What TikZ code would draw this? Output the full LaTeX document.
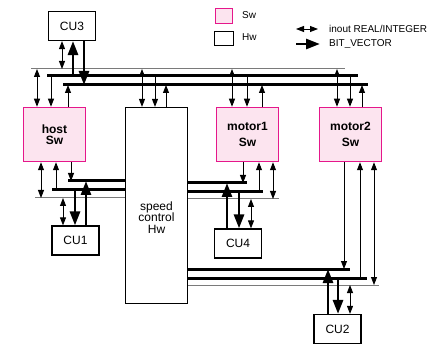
\documentclass[tikz,border=0pt]{standalone}
\usepackage{fontspec}
\setmainfont{Liberation Sans}
\usetikzlibrary{arrows.meta, calc}
\definecolor{swmagenta}{HTML}{E5178B}
\definecolor{swpink}{HTML}{FCE4EF}
\definecolor{busgrey}{HTML}{7A7A7A}
\tikzset{
  swbox/.style={rectangle, draw=swmagenta, fill=swpink, line width=1.5pt,
                minimum width=62pt, minimum height=54pt, align=center,
                font=\fontsize{12}{11.5}\selectfont\bfseries},
  hwbox/.style={rectangle, draw=black, fill=white, line width=1.2pt,
                align=center, font=\fontsize{12}{11.5}\selectfont},
  cubox/.style={hwbox, minimum width=47pt, minimum height=29pt},
  hwtext/.style={align=center, font=\fontsize{12}{11.5}\selectfont},
  legtext/.style={anchor=west, inner sep=0pt, font=\fontsize{10}{12}\selectfont},
  thinbus/.style={draw=busgrey, line width=1pt},
  thickbus/.style={draw=black, line width=3pt},
  iolink/.style={{Triangle[length=8pt,width=6pt]}-{Triangle[length=8pt,width=6pt]},
                 line width=0.9pt},
  siglink/.style={-{Triangle[length=8pt,width=6pt]}, line width=0.9pt},
  veclink/.style={-{Triangle[length=14pt,width=10pt]}, line width=2.8pt},
}

\begin{document}
\begin{tikzpicture}[x=1pt, y=-1pt]
  \useasboundingbox (0,0) rectangle (433,347);

  % --- blocks ---
  \node[cubox]  (cu3)    at (72,26)      {CU3};
  \node[swbox]  (host)   at (54.5,134.5) {host\\Sw};
  \node[hwbox, minimum width=62pt, minimum height=196pt,
        label={[hwtext, yshift=-12pt]center:speed\\control\\Hw}] (speed) at (156.5,205.5) {};
  \node[swbox]  (motor1) at (247.5,134.5) {motor1\\[5pt]Sw};
  \node[swbox]  (motor2) at (350.5,134.5) {motor2\\[5pt]Sw};
  \node[cubox]  (cu1)    at (75.5,240.5) {CU1};
  \node[cubox]  (cu4)    at (238,243.5)  {CU4};
  \node[cubox]  (cu2)    at (337.5,329)  {CU2};

  % --- legend ---
  \node[swbox, minimum width=17pt, minimum height=15pt] (swkey) at (224,16) {};
  \node[hwbox, minimum width=19pt, minimum height=14pt] (hwkey) at (224,38.5) {};
  \node[legtext] (swlab) at (242,15) {Sw};
  \node[legtext] (hwlab) at (242,37) {Hw};
  \node[legtext] (iolab) at (329,29) {inout REAL/INTEGER};
  \node[legtext] (veclab) at (329,44) {BIT\_VECTOR};
  \coordinate (ioA) at (296,29);  \coordinate (ioB) at (318,29);
  \coordinate (vecA) at (296,44); \coordinate (vecB) at (320,44);
  \draw[iolink] (ioA) -- (ioB);
  \draw[veclink] (vecA) -- (vecB);

  % --- buses ---
  \coordinate (taW) at (31,69);  \coordinate (taE) at (345,69);
  \coordinate (tbW) at (47,76);  \coordinate (tbE) at (358,76);
  \coordinate (tcW) at (63,85);  \coordinate (tcE) at (368,85);
  \draw[thinbus]  (taW) -- (taE);
  \draw[thickbus] (tbW) -- (tbE);
  \draw[thickbus] (tcW) -- (tcE);

  \coordinate (haW) at (35,198); \coordinate (hbW) at (68,181); \coordinate (hcW) at (52,190);
  \draw[thinbus]  (haW) -- (haW -| speed.west);
  \draw[thickbus] (hbW) -- (hbW -| speed.west);
  \draw[thickbus] (hcW) -- (hcW -| speed.west);

  \coordinate (maE) at (279,199); \coordinate (mbE) at (247,183); \coordinate (mcE) at (263,192);
  \draw[thinbus]  (speed.east |- maE) -- (maE);
  \draw[thickbus] (speed.east |- mbE) -- (mbE);
  \draw[thickbus] (speed.east |- mcE) -- (mcE);

  \coordinate (baE) at (379,285); \coordinate (bbE) at (350,269); \coordinate (bcE) at (367,278);
  \draw[thinbus]  (speed.east |- baE) -- (baE);
  \draw[thickbus] (speed.east |- bbE) -- (bbE);
  \draw[thickbus] (speed.east |- bcE) -- (bcE);

  % --- top connections ---
  \draw[iolink]  (cu3.south -| 62,0) -- (taW -| 62,0);
  \draw[veclink] (tbW -| 73,0) -- (cu3.south -| 73,0);
  \draw[veclink] (cu3.south -| 84,0) -- (tcW -| 84,0);

  \draw[iolink]  (taW -| 37,0) -- (host.north -| 37,0);
  \draw[siglink] (tbW -| 51,0) -- (host.north -| 51,0);
  \draw[siglink] (host.north -| 68,0) -- (tcW -| 68,0);

  \draw[iolink]  (taW -| 142,0) -- (speed.north -| 142,0);
  \draw[siglink] (tbW -| 155,0) -- (speed.north -| 155,0);
  \draw[siglink] (speed.north -| 166,0) -- (tcW -| 166,0);

  \draw[iolink]  (taW -| 232,0) -- (motor1.north -| 232,0);
  \draw[siglink] (tbW -| 247,0) -- (motor1.north -| 247,0);
  \draw[siglink] (motor1.north -| 262,0) -- (tcW -| 262,0);

  \draw[iolink]  (taW -| 337,0) -- (motor2.north -| 337,0);
  \draw[siglink] (tbW -| 350,0) -- (motor2.north -| 350,0);
  \draw[siglink] (motor2.north -| 362,0) -- (tcW -| 362,0);

  % --- host / CU1 ---
  \draw[iolink]  (host.south -| 41,0) -- (haW -| 41,0);
  \draw[siglink] (hcW -| 56,0) -- (host.south -| 56,0);
  \draw[siglink] (host.south -| 71,0) -- (hbW -| 71,0);
  \draw[iolink]  (haW -| 63,0) -- (cu1.north -| 63,0);
  \draw[veclink] (hcW -| 75,0) -- (cu1.north -| 75,0);
  \draw[veclink] (cu1.north -| 86,0) -- (hbW -| 86,0);

  % --- motor1 / CU4 ---
  \draw[siglink] (motor1.south -| 243,0) -- (mbE -| 243,0);
  \draw[siglink] (mcE -| 259,0) -- (motor1.south -| 259,0);
  \draw[iolink]  (motor1.south -| 273,0) -- (maE -| 273,0);
  \draw[veclink] (cu4.north -| 227,0) -- (mbE -| 227,0);
  \draw[veclink] (mcE -| 239,0) -- (cu4.north -| 239,0);
  \draw[iolink]  (maE -| 251,0) -- (cu4.north -| 251,0);

  % --- motor2 / CU2 ---
  \draw[siglink] (motor2.south -| 344,0) -- (bbE -| 344,0);
  \draw[siglink] (bcE -| 360,0) -- (motor2.south -| 360,0);
  \draw[iolink]  (motor2.south -| 374,0) -- (baE -| 374,0);
  \draw[veclink] (cu2.north -| 328,0) -- (bbE -| 328,0);
  \draw[veclink] (bcE -| 338,0) -- (cu2.north -| 338,0);
  \draw[iolink]  (baE -| 350,0) -- (cu2.north -| 350,0);
\end{tikzpicture}
\end{document}
